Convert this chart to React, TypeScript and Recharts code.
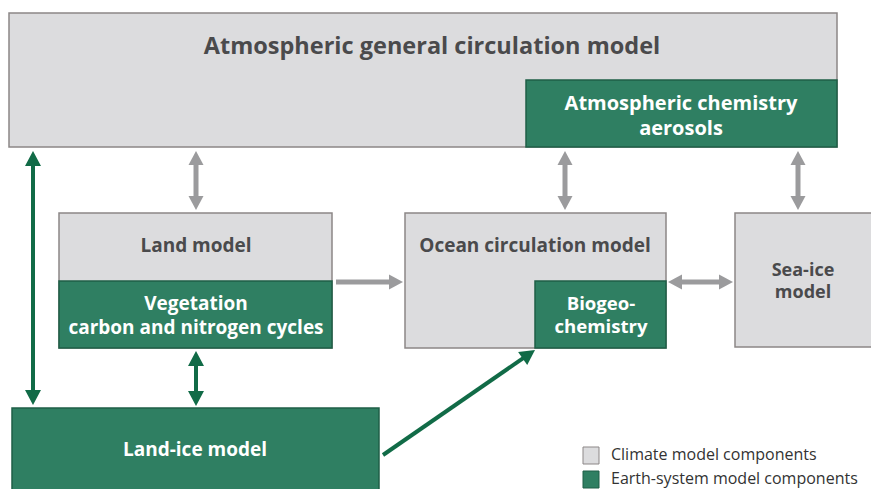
import { ComposedChart, XAxis, YAxis, ReferenceArea, ReferenceLine, Scatter } from "recharts";

// diagram components: [name, left, right, top, bottom, kind]
const boxNames = ["atmosphere", "atmChem", "land", "vegetation", "ocean", "biogeo", "seaIce", "landIce"];
const boxLeft = [9, 526, 59, 59, 405, 535, 735, 12];
const boxRight = [837, 837, 332, 332, 666, 666, 872, 379];
const boxTop = [13, 80, 213, 281, 213, 281, 213, 408];
const boxBottom = [147, 147, 348, 348, 348, 348, 347, 495];
const boxKind = ["climate", "earth", "climate", "earth", "climate", "earth", "climate", "earth"];

// couplings between components
const linkFrom = [[33, 151], [196, 151], [565, 151], [798, 151], [336, 282], [668, 282], [196, 351], [383, 455]];
const linkTo = [[33, 405], [196, 210], [565, 210], [798, 210], [403, 282], [733, 282], [196, 406], [535, 350]];
const linkKind = ["earth", "climate", "climate", "climate", "climate", "climate", "earth", "earth"];
const linkHeads = ["both", "both", "both", "both", "end", "both", "both", "end"];

// box captions: lines, center x, first baseline y, line gap, colour kind, size
const labelLines = [
  ["Atmospheric general circulation model"],
  ["Atmospheric chemistry", "aerosols"],
  ["Land model"],
  ["Vegetation", "carbon and nitrogen cycles"],
  ["Ocean circulation model"],
  ["Biogeo-", "chemistry"],
  ["Sea-ice", "model"],
  ["Land-ice model"],
];
const labelX = [432, 681, 196, 196, 535, 601, 803, 195];
const labelY = [54, 110, 252, 310, 252, 310, 275.5, 456];
const labelGap = [0, 25, 0, 24, 0, 23, 22.5, 0];
const labelOn = ["climate", "earth", "climate", "earth", "climate", "earth", "climate", "earth"];
const labelSize = [23.5, 20, 19, 19, 19, 18.6, 18, 19];

const legendNames = ["Climate model components", "Earth-system model components"];
const legendKind = ["climate", "earth"];
const legendTop = [447, 471];

const FILL: Record<string, string> = { climate: "#dcdcde", earth: "#2f7f62" };
const EDGE: Record<string, string> = { climate: "#8c8787", earth: "#1f5f47" };
const ARROW: Record<string, string> = { climate: "#9b9b9d", earth: "#116b47" };
const INK: Record<string, string> = { climate: "#4a4a4c", earth: "#ffffff" };
const FONT = "'Open Sans', 'Noto Sans', sans-serif";

const labels = labelLines.map((lines, i) => ({
  x: labelX[i],
  y: labelY[i],
  lines,
  gap: labelGap[i],
  kind: labelOn[i],
  size: labelSize[i],
}));
const legendRows = legendNames.map((text, i) => ({ x: 611, y: legendTop[i] + 13, text, kind: legendKind[i] }));

function head(x: number, y: number, ux: number, uy: number, len: number, half: number) {
  // tip at (x, y), pointing along (ux, uy)
  const bx = x - ux * len;
  const by = y - uy * len;
  return `${x},${y} ${bx - uy * half},${by + ux * half} ${bx + uy * half},${by - ux * half}`;
}

function Arrow(props: any, kind: string, heads: string) {
  const { x1, y1, x2, y2 } = props;
  if (x1 == null) return null;
  const dx = x2 - x1;
  const dy = y2 - y1;
  const d = Math.hypot(dx, dy);
  const ux = dx / d;
  const uy = dy / d;
  const green = kind === "earth";
  const len = green ? 15 : 14;
  const half = green ? 8 : 7.5;
  const color = ARROW[kind];
  const sx = heads === "both" ? x1 + ux * (len - 2) : x1;
  const sy = heads === "both" ? y1 + uy * (len - 2) : y1;
  const ex = x2 - ux * (len - 2);
  const ey = y2 - uy * (len - 2);
  return (
    <g>
      <line x1={sx} y1={sy} x2={ex} y2={ey} stroke={color} strokeWidth={green ? 4 : 5} />
      <polygon points={head(x2, y2, ux, uy, len, half)} fill={color} />
      {heads === "both" && <polygon points={head(x1, y1, -ux, -uy, len, half)} fill={color} />}
    </g>
  );
}

export default function App() {
  return (
    <div style={{ position: "absolute", left: 0, top: 0, width: 871, height: 489, background: "#ffffff" }}>
      <ComposedChart width={871} height={489} margin={{ top: 0, right: 0, bottom: 0, left: 0 }} data={labels}>
        <XAxis type="number" dataKey="x" domain={[0, 871]} hide allowDataOverflow />
        <YAxis type="number" dataKey="y" domain={[0, 489]} reversed hide allowDataOverflow />
        {boxNames.map((name, i) => (
          <ReferenceArea
            key={name}
            x1={boxLeft[i]}
            x2={boxRight[i]}
            y1={boxTop[i]}
            y2={boxBottom[i]}
            ifOverflow="visible"
            fill={FILL[boxKind[i]]}
            fillOpacity={1}
            stroke={EDGE[boxKind[i]]}
            strokeWidth={1.5}
          />
        ))}
        {linkFrom.map((from, i) => (
          <ReferenceLine
            key={`link-${i}`}
            segment={[{ x: from[0], y: from[1] }, { x: linkTo[i][0], y: linkTo[i][1] }]}
            ifOverflow="visible"
            shape={(p: any) => Arrow(p, linkKind[i], linkHeads[i])}
          />
        ))}
        {legendNames.map((name, i) => (
          <ReferenceArea
            key={name}
            x1={583}
            x2={599}
            y1={legendTop[i]}
            y2={legendTop[i] + 17}
            ifOverflow="visible"
            fill={FILL[legendKind[i]]}
            fillOpacity={1}
            stroke={EDGE[legendKind[i]]}
            strokeWidth={1}
          />
        ))}
        <Scatter
          data={labels}
          dataKey="y"
          isAnimationActive={false}
          shape={(p: any) => (
            <text
              x={p.cx}
              y={p.cy}
              textAnchor="middle"
              fontFamily={FONT}
              fontWeight={700}
              fontSize={p.payload.size}
              fill={INK[p.payload.kind]}
            >
              {p.payload.lines.map((line: string, j: number) => (
                <tspan key={line} x={p.cx} dy={j === 0 ? 0 : p.payload.gap}>
                  {line}
                </tspan>
              ))}
            </text>
          )}
        />
        <Scatter
          data={legendRows}
          dataKey="y"
          isAnimationActive={false}
          shape={(p: any) => (
            <text x={p.cx} y={p.cy} textAnchor="start" fontFamily={FONT} fontSize={16} fill="#333333">
              {p.payload.text}
            </text>
          )}
        />
      </ComposedChart>
    </div>
  );
}
